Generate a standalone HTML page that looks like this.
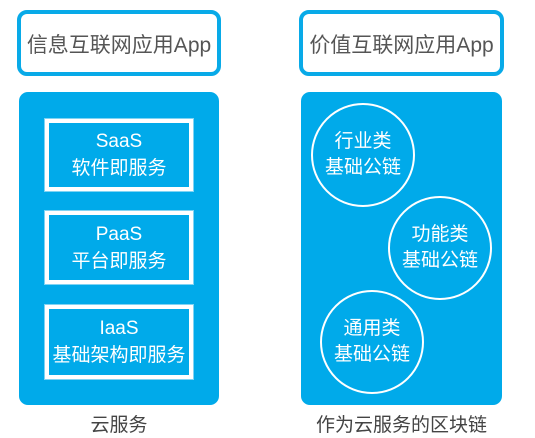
<!DOCTYPE html>
<html><head><meta charset="utf-8"><style>
body{margin:0;width:535px;height:438px;background:#fff;position:relative;overflow:hidden;font-family:"Liberation Sans","Noto Sans CJK SC",sans-serif}
.a{position:absolute;box-sizing:border-box}
.top{border:4px solid #08aae8;border-radius:10px;background:#fff;color:#555;font-size:21px;display:flex;align-items:center;justify-content:center;padding-top:2px}
.panel{background:#00aaea;border-radius:9px}
.box{border:4px solid #fff;outline:1px solid #7fd3f3;color:#fff;font-size:19px;text-align:center;line-height:27px;display:flex;flex-direction:column;justify-content:center}
.c{border:2.5px solid #fff;border-radius:50%;color:#fff;font-size:19px;line-height:26px;text-align:center;display:flex;flex-direction:column;justify-content:center}
.cap{color:#444;font-size:19px;text-align:center}
</style></head><body>
<div class="a top" style="left:17px;top:10px;width:204px;height:66px">信息互联网应用App</div>
<div class="a top" style="left:299px;top:10px;width:205px;height:66px">价值互联网应用App</div>
<div class="a panel" style="left:19px;top:92px;width:200px;height:313px"></div>
<div class="a panel" style="left:301px;top:92px;width:201px;height:313px"></div>
<div class="a box" style="left:45px;top:119px;width:148px;height:72px"><div>SaaS</div><div>软件即服务</div></div>
<div class="a box" style="left:45px;top:211px;width:148px;height:73px"><div>PaaS</div><div>平台即服务</div></div>
<div class="a box" style="left:45px;top:305px;width:148px;height:74px"><div>IaaS</div><div style="white-space:nowrap;margin:0 -8px">基础架构即服务</div></div>
<div class="a c" style="left:311px;top:103px;width:104px;height:104px"><div>行业类</div><div>基础公链</div></div>
<div class="a c" style="left:388px;top:196px;width:104px;height:104px"><div>功能类</div><div>基础公链</div></div>
<div class="a c" style="left:320px;top:290px;width:104px;height:104px"><div>通用类</div><div>基础公链</div></div>
<div class="a cap" style="left:19px;top:410px;width:200px">云服务</div>
<div class="a cap" style="left:301px;top:410px;width:201px">作为云服务的区块链</div>
</body></html>
